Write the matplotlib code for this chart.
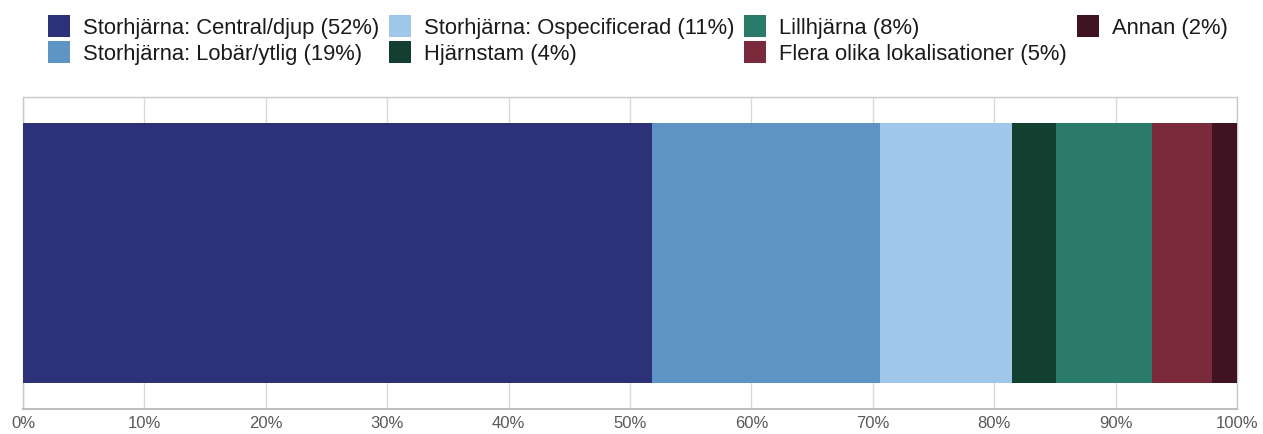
import matplotlib
matplotlib.use("Agg")
import matplotlib.pyplot as plt
from matplotlib.ticker import FuncFormatter

categories = [
    "Storhjärna: Central/djup (52%)",
    "Storhjärna: Lobär/ytlig (19%)",
    "Storhjärna: Ospecificerad (11%)",
    "Hjärnstam (4%)",
    "Lillhjärna (8%)",
    "Flera olika lokalisationer (5%)",
    "Annan (2%)",
]
values = [51.8, 18.8, 10.9, 3.6, 7.9, 4.9, 2.1]
colors = ["#2d3278", "#5e93c5", "#a0c6ea", "#133f31", "#2a7b6a", "#7b2a3b", "#3f1322"]
xticks = [0, 10, 20, 30, 40, 50, 60, 70, 80, 90, 100]

plt.rcParams['font.family'] = ['Liberation Sans', 'DejaVu Sans']

W, H = 1263, 435
fig = plt.figure(figsize=(W / 100, H / 100), dpi=100)
ax = fig.add_axes([23 / W, 1 - 410 / H, (1237 - 23) / W, (410 - 98) / H])

left = 0
for cat, v, c in zip(categories, values, colors):
    ax.barh(0, v, left=left, height=1.0, color=c, label=cat, zorder=3, linewidth=0)
    left += v

ax.set_xlim(0, 100)
ax.set_ylim(-0.6, 0.6)
ax.set_yticks([])
ax.set_xticks(xticks)
ax.xaxis.set_major_formatter(FuncFormatter(lambda x, p: f"{int(x)}%"))
ax.tick_params(axis='x', length=0, pad=4.5, labelsize=12, labelcolor="#595959")
ax.grid(axis='x', color="#d9d9d9", linewidth=1, zorder=0)
for s in ax.spines.values():
    s.set_color("#c8c8c8")
    s.set_linewidth(1)
ax.spines['bottom'].set_color("#bfbfbf")
ax.spines['bottom'].set_linewidth(1.5)

fs = 15.8
leg = fig.legend(loc='upper left', bbox_to_anchor=(48 / W, 1 - 16 / H), ncol=4,
                 frameon=False, fontsize=fs, handlelength=1.0, handleheight=1.16,
                 handletextpad=0.6, columnspacing=0.44, labelspacing=0.1,
                 borderpad=0, borderaxespad=0)
for t in leg.get_texts():
    t.set_color("#1a1a1a")

fig.savefig("out.png", dpi=100)
